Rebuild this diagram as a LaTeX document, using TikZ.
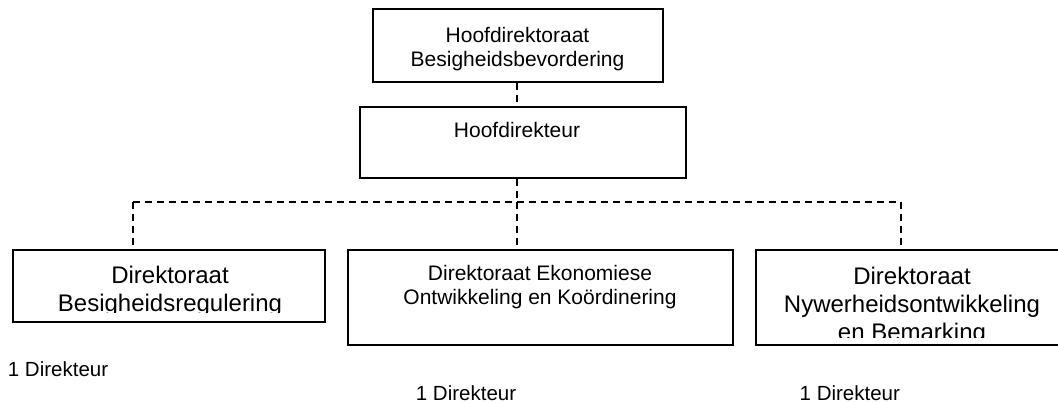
\documentclass[tikz,border=0pt]{standalone}
\usepackage{fontspec}
\setmainfont{Liberation Sans}
\usetikzlibrary{positioning}

\begin{document}
\begin{tikzpicture}[
    x=1pt, y=-1pt,
    unit/.style={rectangle, draw, line width=1.5pt, inner sep=0pt},
    boxtext/.style={anchor=north, inner sep=0pt, align=center},
    regtxt/.style={font=\fontsize{21}{24.5}\selectfont},
    bigtxt/.style={font=\fontsize{24}{28}\selectfont},
    staff/.style={anchor=base west, inner sep=0pt, font=\fontsize{20.5}{24}\selectfont},
    link/.style={line width=1.5pt, dash pattern=on 7pt off 5pt}
]
\useasboundingbox (0,0) rectangle (1058,403);

% Boxes
\node[unit, minimum width=290, minimum height=73] (hdb) at (518,45.5) {};
\node[unit, minimum width=326, minimum height=71] (hd) at (523,142.5) {};
\node[unit, minimum width=312, minimum height=72] (dbr) at (169,286) {};
\node[unit, minimum width=385, minimum height=95] (deok) at (540.5,297.5) {};
\node[unit, minimum width=312, minimum height=95] (dnb) at (912,297.5) {};

% Box texts
\node[boxtext, regtxt] (hdb-t) at (517.5,27) {Hoofdirektoraat\\Besigheidsbevordering};
\node[boxtext, regtxt] (hd-t) at (517,122) {Hoofdirekteur};
\node[boxtext, regtxt] (deok-t) at (540,265) {Direktoraat Ekonomiese\\Ontwikkeling en Koördinering};
% text cut off at the bottom of the box
\begin{scope}
\clip (dbr.north west) rectangle ([yshift=10pt]dbr.south east);
\node[boxtext, bigtxt] (dbr-t) at (170,266) {Direktoraat\\Besigheidsregulering};
\end{scope}
\begin{scope}
\clip (dnb.north west) rectangle ([yshift=8pt]dnb.south east);
\node[boxtext, bigtxt] (dnb-t) at (912,267) {Direktoraat\\Nywerheidsontwikkeling\\en Bemarking};
\end{scope}

% Staff
\node[staff] (dbr-s) at (7.7,377) {1 Direkteur};
\node[staff] (deok-s) at (415.7,400) {1 Direkteur};
\node[staff] (dnb-s) at (799.5,400) {1 Direkteur};

% Connectors
\coordinate (bus) at (517,202);
\coordinate (busL) at (133,202);
\coordinate (busR) at (901,202);
\draw[link] (hdb.south -| bus) -- (hd.north -| bus);
\draw[link] (hd.south -| bus) -- (bus);
\draw[link] (busL) -- (busR);
\draw[link] (busL) -- (busL |- dbr.north);
\draw[link] (bus) -- (bus |- deok.north);
\draw[link] (busR) -- (busR |- dnb.north);

\end{tikzpicture}
\end{document}
